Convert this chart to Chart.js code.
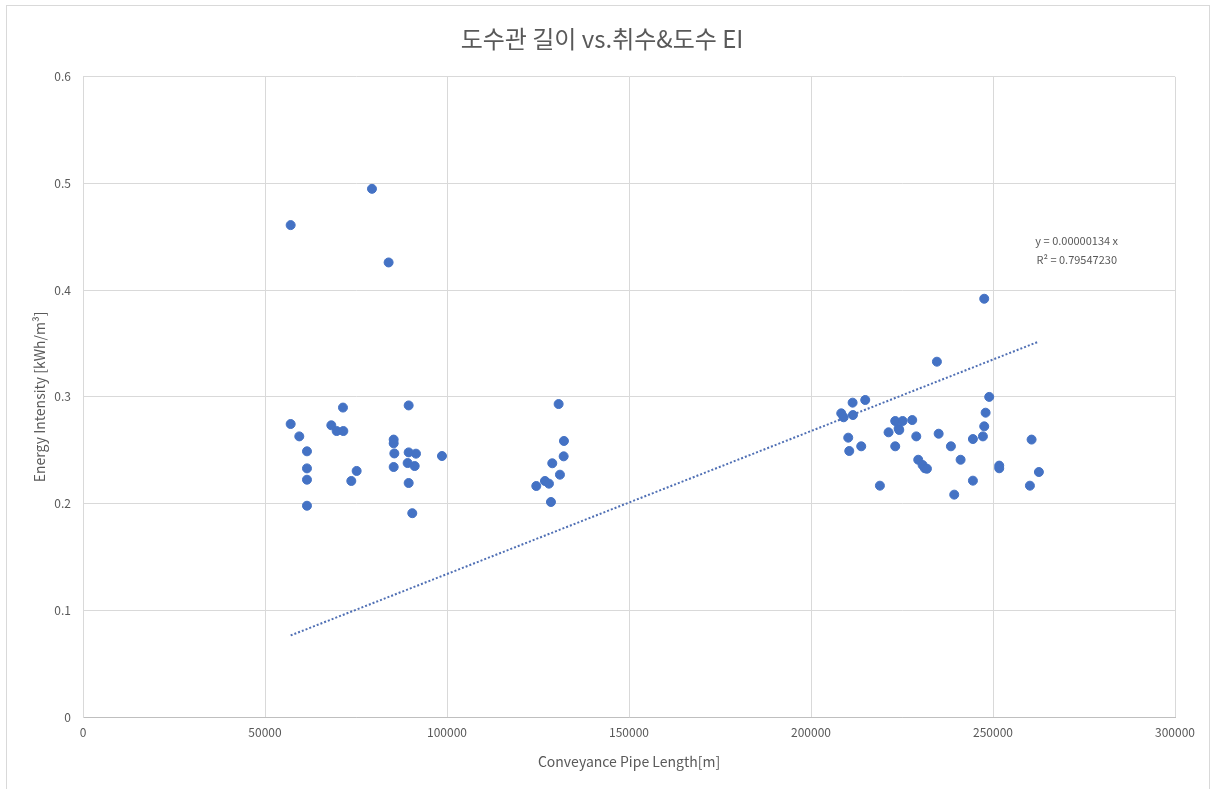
<!DOCTYPE html>
<html>
<head>
<meta charset="utf-8">
<script src="https://cdn.jsdelivr.net/npm/chart.js@4/dist/chart.umd.min.js"></script>
<style>
  html, body { margin: 0; padding: 0; background: #fff; }
  #wrap { width: 1214px; height: 789px; position: relative; }
</style>
</head>
<body>
<div id="wrap"><canvas id="c" width="1214" height="789"></canvas></div>
<script>
// pipe length [m]
const pipeLength = [
  79390, 57050, 83960, 71420, 89470, 57050, 59420, 68220, 69690, 71520,
  61530, 85350, 85350, 85530, 89470, 91480, 98620, 61530, 61530, 75180,
  73710, 85350, 89190, 91120, 89470, 61530, 90460,
  130670, 132130, 132050, 128920, 131030, 126910, 128010, 124530, 128560,
  247590, 234590, 211430, 214900, 208310, 208970, 211520, 248960, 247970, 247590,
  247230, 244480, 223140, 225170, 224070, 224250, 227810, 221310, 228920, 235070,
  210230, 210510, 213800, 223140, 238440, 260600, 229460, 230650, 231300, 231850,
  241100, 251710, 251710, 262610, 244480, 218930, 260140, 239350
]
// energy intensity [kWh/m3]
const energyIntensity = [
  0.495, 0.461, 0.426, 0.290, 0.292, 0.2746, 0.263, 0.2734, 0.268, 0.268,
  0.249, 0.260, 0.2565, 0.247, 0.248, 0.2468, 0.2446, 0.233, 0.2224, 0.2306,
  0.2212, 0.2343, 0.238, 0.2352, 0.2193, 0.198, 0.191,
  0.2933, 0.2587, 0.2443, 0.2378, 0.2271, 0.2212, 0.2187, 0.2165, 0.2015,
  0.392, 0.333, 0.2946, 0.2971, 0.2846, 0.2809, 0.283, 0.300, 0.2852, 0.2724,
  0.263, 0.2605, 0.2774, 0.2774, 0.2705, 0.269, 0.2783, 0.2668, 0.263, 0.2655,
  0.2618, 0.2493, 0.2537, 0.2537, 0.2537, 0.260, 0.2411, 0.2362, 0.2331, 0.2327,
  0.2411, 0.2356, 0.2331, 0.2296, 0.2215, 0.2168, 0.2168, 0.2084
]
const trendSlope = 0.00000134
const trendLabel = ['y = 0.00000134 x', 'R\u00b2 = 0.79547230']

const points = pipeLength.map((x, i) => ({ x: x, y: energyIntensity[i] }))
const xMin = Math.min(...pipeLength)
const xMax = Math.max(...pipeLength)
const trend = [
  { x: xMin, y: trendSlope * xMin },
  { x: xMax, y: trendSlope * xMax }
]

const textColor = '#595959'
const gridColor = '#d9d9d9'
const font = '"Noto Sans CJK KR", "Noto Sans", sans-serif'

// frame + trendline equation
const extras = {
  id: 'extras',
  afterDraw(chart) {
    const { ctx, scales } = chart
    ctx.save()
    ctx.strokeStyle = gridColor
    ctx.lineWidth = 1
    ctx.strokeRect(6.5, 5.5, 1203, 790)
    ctx.fillStyle = textColor
    ctx.font = '11px ' + font
    ctx.textAlign = 'center'
    ctx.textBaseline = 'middle'
    const cx = scales.x.getPixelForValue(273000)
    const cy = scales.y.getPixelForValue(0.446)
    ctx.fillText(trendLabel[0], cx, cy)
    ctx.fillText(trendLabel[1], cx, cy + 19)
    ctx.restore()
  }
}

new Chart(document.getElementById('c'), {
  type: 'scatter',
  data: {
    datasets: [
      {
        label: 'EI',
        data: points,
        backgroundColor: '#4472C4',
        borderColor: '#4472C4',
        pointRadius: 4.5,
        pointHoverRadius: 4.5
      },
      {
        label: 'trend',
        type: 'line',
        data: trend,
        borderColor: '#4f6fb4',
        borderWidth: 2,
        borderDash: [2, 2],
        pointRadius: 0,
        fill: false
      }
    ]
  },
  options: {
    animation: false,
    responsive: false,
    layout: { padding: { left: 29, right: 39, top: 0, bottom: 0 } },
    plugins: {
      legend: { display: false },
      tooltip: { enabled: false },
      title: {
        display: true,
        text: '도수관 길이 vs.취수&도수 EI',
        color: textColor,
        font: { family: font, size: 24, weight: 'normal' },
        padding: { top: 24, bottom: 24 }
      }
    },
    scales: {
      x: {
        type: 'linear',
        min: 0,
        max: 300000,
        afterFit: s => { s.height = 72 },
        ticks: {
          stepSize: 50000,
          color: textColor,
          font: { family: font, size: 12 },
          padding: 8,
          maxRotation: 0,
          callback: v => String(v)
        },
        grid: { color: gridColor, drawTicks: false },
        border: { color: '#bfbfbf' },
        title: {
          display: true,
          text: 'Conveyance Pipe Length[m]',
          color: textColor,
          font: { family: font, size: 14 },
          padding: { top: 0, bottom: 19 }
        }
      },
      y: {
        min: 0,
        max: 0.6,
        afterFit: s => { s.width = 54 },
        ticks: {
          stepSize: 0.1,
          color: textColor,
          font: { family: font, size: 12 },
          padding: 12
        },
        grid: { color: gridColor, drawTicks: false },
        border: { color: gridColor },
        title: {
          display: true,
          text: 'Energy Intensity [kWh/m\u00b3]',
          color: textColor,
          font: { family: font, size: 14 },
          padding: { top: 2, bottom: 0 }
        }
      }
    }
  },
  plugins: [extras]
})
</script>
</body>
</html>
